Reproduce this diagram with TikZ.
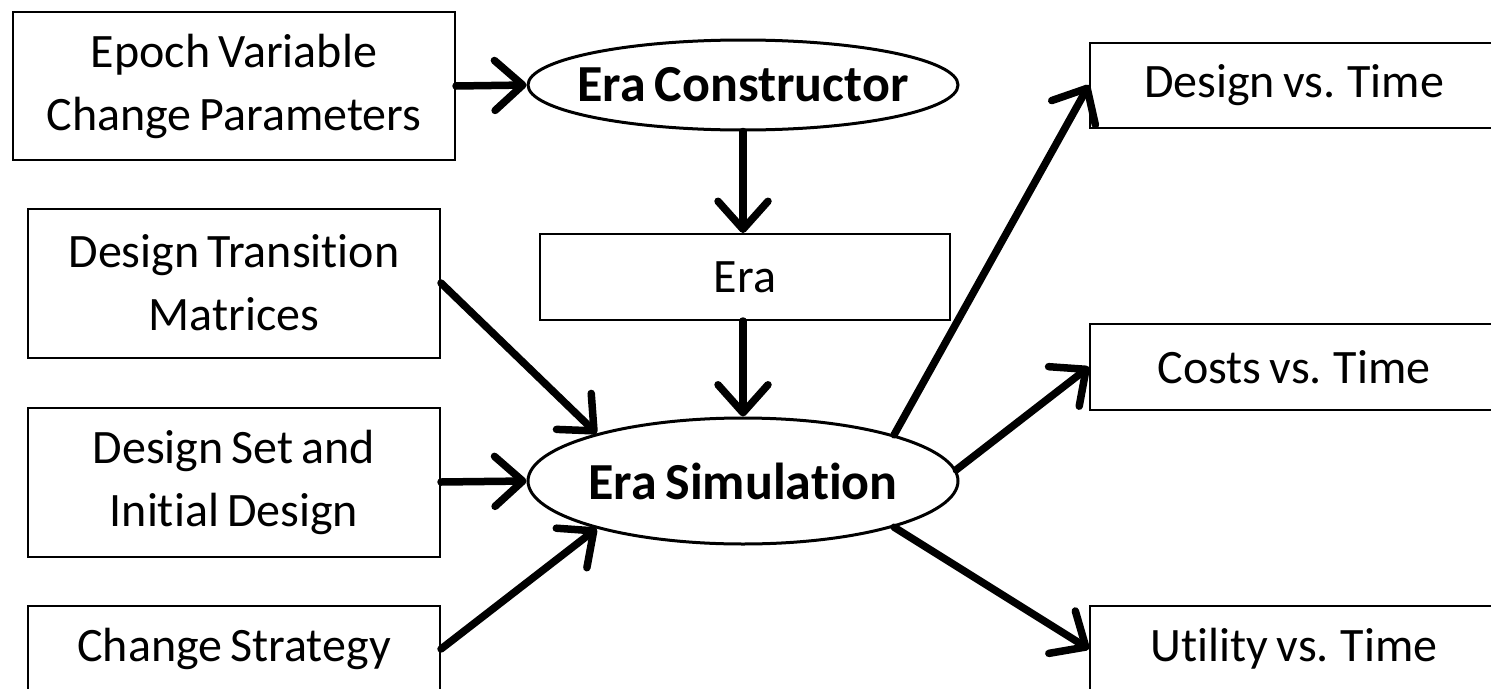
\documentclass[tikz,border=0pt]{standalone}
\usepackage{fontspec}
\setmainfont[Ligatures=NoCommon,WordSpace=0.75]{Carlito}
\usetikzlibrary{arrows.meta,shapes.geometric}
\tikzset{
  inbox/.style={draw, line width=2pt, fill=white, align=center, inner sep=0pt,
    font=\fontsize{48}{63}\selectfont},
  outbox/.style={draw, line width=2pt, fill=white, inner sep=0pt,
    font=\fontsize{48}{63}\selectfont},
  proc/.style={draw, ellipse, line width=3pt, inner sep=0pt},
  proclabel/.style={inner sep=0pt, font=\bfseries\fontsize{52}{60}\selectfont},
  flow/.style={line width=7.5pt, line cap=round,
    -{Straight Barb[length=28pt,width=50pt,round]}},
}
\begin{document}
\begin{tikzpicture}[x=1pt,y=-1pt]
\useasboundingbox (0,0) rectangle (1491,688);
\clip (0,0) rectangle (1491,688);
\fill[white] (0,0) rectangle (1491,688);

% inputs on the left
\node[inbox, minimum width=442pt, minimum height=148pt] (ev) at (234,86)
  {Epoch Variable\\Change Parameters};
\node[inbox, minimum width=412pt, minimum height=149pt] (dtm) at (234,283)
  {Design Transition\\Matrices};
\node[inbox, minimum width=412pt, minimum height=149pt] (dsid) at (234,482)
  {Design Set and\\Initial Design};
\node[inbox, minimum width=412pt, minimum height=86pt] (cs) at (234,649)
  {Change Strategy};

% central chain
\node[proc, minimum width=430pt, minimum height=90pt] (ec) at (743,85) {};
\node[proclabel] (ecl) at (ec.center) {Era Constructor};
\node[inbox, minimum width=410pt, minimum height=86pt] (era) at (745,277) {Era};
\node[proc, minimum width=430pt, minimum height=126pt] (es) at (743,481) {};
\node[proclabel] (esl) at (es.center) {Era Simulation};

% outputs on the right
\node[outbox, minimum width=408pt, minimum height=85pt] (dvt) at (1294,85)
  {Design vs. Time};
\node[outbox, minimum width=408pt, minimum height=86pt] (cvt) at (1294,367)
  {Costs vs. Time};
\node[outbox, minimum width=408pt, minimum height=86pt] (uvt) at (1294,649)
  {Utility vs. Time};

% connectors
\draw[flow] (ev.east) -- (ec.west);
\draw[flow] (ec.south) -- (era.north -| ec.south);
\draw[flow] (era.south -| es.north) -- (es.north);
\draw[flow] (dtm.east) -- (es.162);
\draw[flow] (dsid.east) -- (es.west);
\draw[flow] (cs.east) -- (es.198);
\draw[flow] (es.17) -- (dvt.west);
\draw[flow] (es.3) -- (cvt.west);
\draw[flow] (es.-17) -- (uvt.west);
\end{tikzpicture}
\end{document}
